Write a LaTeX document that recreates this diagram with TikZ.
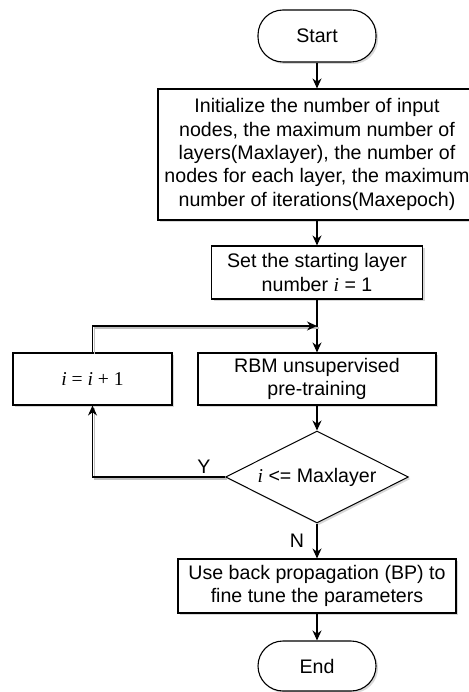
\documentclass[tikz,border=0pt]{standalone}
\usepackage{fontspec}
\setmainfont{Liberation Sans}
\newfontfamily\timesfont{Liberation Serif}
\usetikzlibrary{shapes.geometric,shadows,arrows.meta}

\begin{document}
\begin{tikzpicture}[x=1pt, y=-1pt,
  every node/.style={font=\fontsize{19.6}{23.3}\selectfont, align=center},
  box/.style={rectangle, draw=black, fill=white, line width=1.1pt, inner sep=0pt,
    drop shadow={shadow xshift=2pt, shadow yshift=-2pt, fill=black!30}},
  term/.style={box, rounded corners=25pt},
  decision/.style={diamond, aspect=2, draw=black, fill=white, line width=1pt, inner sep=0pt,
    drop shadow={shadow xshift=2pt, shadow yshift=-2pt, fill=black!30}},
  arrow/.style={-{Stealth[length=10pt,width=9pt]}, line width=1.1pt},
  loopline/.style={arrow, preaction={draw=black!25, -, line width=1.1pt,
    transform canvas={shift={(2pt,-2pt)}}}}]
\useasboundingbox (0,0) rectangle (468,692);

\node [term, minimum width=118pt, minimum height=52pt] (start) at (317,36) {Start};
\node [box, minimum width=318pt, minimum height=131pt] (init) at (317,154.5)
  {Initialize the number of input\\nodes, the maximum number of\\layers(Maxlayer), the number of\\nodes for each layer, the maximum\\number of iterations(Maxepoch)};
\node [box, minimum width=211pt, minimum height=53pt] (set) at (317,272.5)
  {Set the starting layer\\number {\timesfont\itshape i} = 1};
\node [box, minimum width=238pt, minimum height=52pt] (rbm) at (317,379)
  {RBM unsupervised\\pre-training};
\node [box, minimum width=159pt, minimum height=52pt] (inc) at (92.5,379)
  {\timesfont\itshape i {\upshape =} i {\upshape + 1}};
\node [decision, minimum width=183pt, minimum height=92pt] (dec) at (317,477)
  {{\timesfont\itshape i} <= Maxlayer};
\node [box, minimum width=278pt, minimum height=54pt] (use) at (317,586)
  {Use back propagation (BP) to\\fine tune the parameters};
\node [term, minimum width=118pt, minimum height=50pt] (end) at (317,666) {End};

\coordinate (merge) at (317,326);

\draw [arrow] (start) -- (init);
\draw [arrow] (init) -- (set);
\draw [arrow] (set) -- (rbm);
\draw [loopline] (inc.north) |- (merge);
\draw [arrow] (rbm) -- (dec);
\draw [loopline] (dec.west) -| node[pos=0.08, above] {Y} (inc.south);
\draw [arrow] (dec) -- node[left=9pt] {N} (use);
\draw [arrow] (use) -- (end);
\end{tikzpicture}
\end{document}
